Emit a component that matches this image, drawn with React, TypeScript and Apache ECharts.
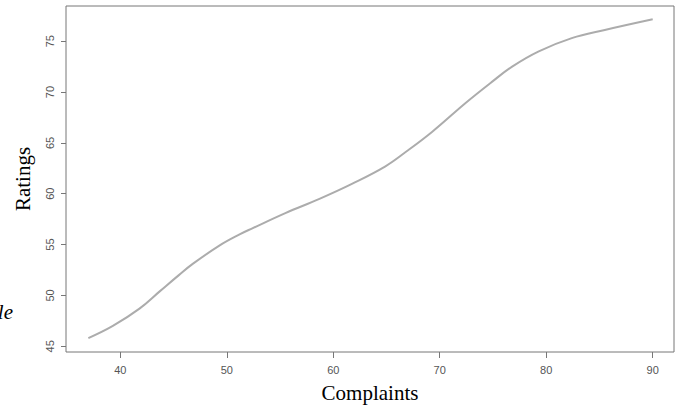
import React, { useEffect, useRef } from "react";
import * as echarts from "echarts";

const complaints = [37, 39.3, 41.8, 43.7, 45.5, 46.8, 49.3, 51.2, 52.4, 55.5, 58.7, 61.8, 64.9, 66.8, 69.3, 72.4, 74.9, 76.8, 79.3, 82.4, 85.5, 90];
const ratings = [45.8, 47.0, 48.7, 50.4, 52.0, 53.1, 54.9, 56.0, 56.6, 58.1, 59.5, 61.0, 62.7, 64.1, 66.1, 68.9, 71.0, 72.5, 74.0, 75.3, 76.1, 77.15];
const xTicks = [40, 50, 60, 70, 80, 90];
const yTicks = [45, 50, 55, 60, 65, 70, 75];

export default function App() {
  const ref = useRef<HTMLDivElement>(null);
  useEffect(() => {
    if (!ref.current) return;
    const chart = echarts.init(ref.current, undefined, { renderer: "svg" });
    const axisColor = "#777";
    const labelColor = "#555";
    chart.setOption({
      animation: false,
      backgroundColor: "#fff",
      grid: { left: 66, top: 6, width: 608, height: 346, show: true, borderColor: axisColor, borderWidth: 1, containLabel: false },
      xAxis: {
        type: "value",
        min: 34.9,
        max: 92.0,
        name: "Complaints",
        nameLocation: "middle",
        nameGap: 30,
        nameTextStyle: { fontFamily: "Liberation Serif", fontSize: 21, color: "#000" },
        axisLine: { show: false },
        axisTick: { show: true, length: 6, customValues: xTicks, lineStyle: { color: axisColor } },
        axisLabel: { customValues: xTicks, margin: 12, fontFamily: "Liberation Sans", fontSize: 11, color: labelColor },
        splitLine: { show: false },
      },
      yAxis: {
        type: "value",
        min: 44.44,
        max: 78.46,
        name: "Ratings",
        nameLocation: "middle",
        nameGap: 33,
        nameTextStyle: { fontFamily: "Liberation Serif", fontSize: 21, color: "#000" },
        axisLine: { show: false },
        axisTick: { show: true, length: 5, customValues: yTicks, lineStyle: { color: axisColor } },
        axisLabel: { customValues: yTicks, rotate: 90, margin: 11, fontFamily: "Liberation Sans", fontSize: 11, color: labelColor },
        splitLine: { show: false },
      },
      graphic: [
        {
          type: "text",
          x: 13,
          y: 312,
          style: { text: "le", font: "italic 21px 'Liberation Serif'", fill: "#000", textAlign: "right", textVerticalAlign: "middle" },
        },
      ],
      series: [
        {
          type: "line",
          data: complaints.map((c, i) => [c, ratings[i]]),
          smooth: 0.4,
          showSymbol: false,
          symbol: "none",
          lineStyle: { color: "#acacac", width: 2 },
        },
      ],
    });
    return () => chart.dispose();
  }, []);
  return <div ref={ref} style={{ position: "absolute", left: 0, top: 0, width: 676, height: 409 }} />;
}
